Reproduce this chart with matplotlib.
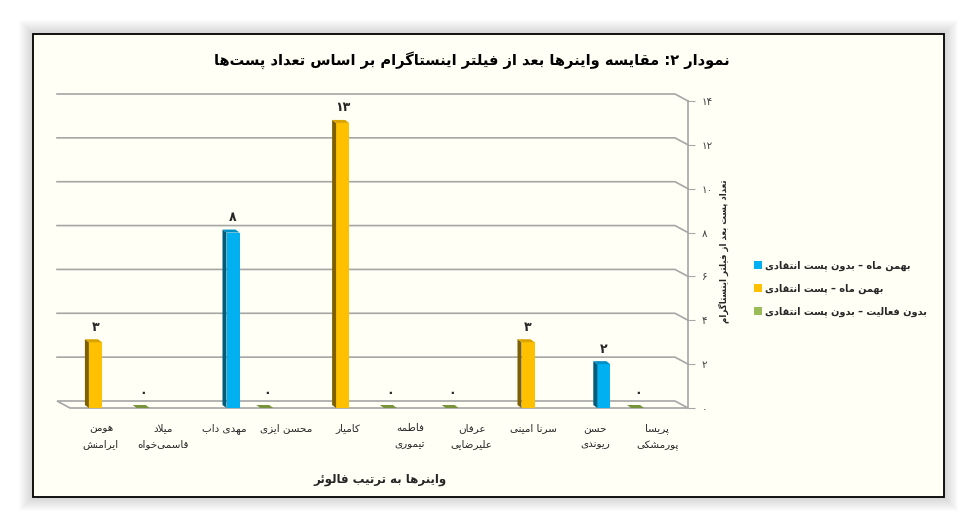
import matplotlib
matplotlib.use("Agg")
import matplotlib.pyplot as plt
from matplotlib.patches import Rectangle, Polygon, Patch

# data
names = [
    "هومن\nایرامنش", "میلاد\nقاسمی‌خواه", "مهدی داب", "محسن ایزی", "کامیار",
    "فاطمه\nتیموری", "عرفان\nعلیرضایی", "سرنا امینی", "حسن\nریوندی", "پریسا\nپورمشکی",
]
values = [3, 0, 8, 0, 13, 0, 0, 3, 2, 0]
# 0 = blue, 1 = orange, 2 = green
series_of = [1, 2, 0, 2, 1, 2, 2, 1, 0, 2]
series_names = [
    "بهمن ماه – بدون پست انتقادی",
    "بهمن ماه – پست انتقادی",
    "بدون فعالیت – بدون پست انتقادی",
]
yticks = [0, 2, 4, 6, 8, 10, 12, 14]
title = "نمودار ۲: مقایسه واینرها بعد از فیلتر اینستاگرام بر اساس تعداد پست‌ها"
xlabel = "واینرها به ترتیب فالوئر"
ylabel = "تعداد پست بعد از فیلتر اینستاگرام"

front = ["#00B0F0", "#FFC000", "#9BBB59"]
side = ["#005A7A", "#7F6000", "#4F6228"]
top = ["#0090C8", "#D9A300", "#77933C"]

# --- simple persian shaping (matplotlib has no bidi / joining) ---
DUAL = {
    "ب": "ﺏﺐﺑﺒ", "پ": "ﭖﭗﭘﭙ", "ت": "ﺕﺖﺗﺘ", "ث": "ﺙﺚﺛﺜ", "ج": "ﺝﺞﺟﺠ",
    "چ": "ﭺﭻﭼﭽ", "ح": "ﺡﺢﺣﺤ", "خ": "ﺥﺦﺧﺨ", "س": "ﺱﺲﺳﺴ", "ش": "ﺵﺶﺷﺸ",
    "ص": "ﺹﺺﺻﺼ", "ض": "ﺽﺾﺿﻀ", "ط": "ﻁﻂﻃﻄ", "ظ": "ﻅﻆﻇﻈ", "ع": "ﻉﻊﻋﻌ",
    "غ": "ﻍﻎﻏﻐ", "ف": "ﻑﻒﻓﻔ", "ق": "ﻕﻖﻗﻘ", "ک": "ﮎﮏﮐﮑ", "گ": "ﮒﮓﮔﮕ",
    "ل": "ﻝﻞﻟﻠ", "م": "ﻡﻢﻣﻤ", "ن": "ﻥﻦﻧﻨ", "ه": "ﻩﻪﻫﻬ", "ی": "ﯼﯽﯾﯿ",
    "ئ": "ﺉﺊﺋﺌ",
}
RIGHT = {
    "ا": "ﺍﺎ", "آ": "ﺁﺂ", "د": "ﺩﺪ", "ذ": "ﺫﺬ", "ر": "ﺭﺮ", "ز": "ﺯﺰ",
    "ژ": "ﮊﮋ", "و": "ﻭﻮ",
}


def fa_shape(s):
    out = []
    chars = list(s)
    i = 0
    while i < len(chars):
        ch = chars[i]
        prev = chars[i - 1] if i > 0 else ""
        nxt = chars[i + 1] if i + 1 < len(chars) else ""
        pj = prev in DUAL
        if ch == "ل" and nxt == "ا":
            out.append("ﻼ" if pj else "ﻻ")
            i += 2
            continue
        if ch in DUAL:
            nj = nxt in DUAL or nxt in RIGHT
            f = DUAL[ch]
            if pj and nj:
                out.append(f[3])
            elif pj:
                out.append(f[1])
            elif nj:
                out.append(f[2])
            else:
                out.append(f[0])
        elif ch in RIGHT:
            out.append(RIGHT[ch][1] if pj else RIGHT[ch][0])
        elif ch != "\u200c":
            out.append(ch)
        i += 1
    return "".join(out[::-1])


def fa(text):
    return "\n".join(fa_shape(line) for line in text.split("\n"))


def fa_num(n):
    return str(n).translate(str.maketrans("0123456789", "۰۱۲۳۴۵۶۷۸۹"))


plt.rcParams["font.family"] = ["DejaVu Sans"]

W, H = 977, 531
fig = plt.figure(figsize=(W / 100, H / 100), dpi=100, facecolor="white")

# chart frame with a soft shadow
bg = fig.add_axes([0, 0, 1, 1])
bg.set_xlim(0, W)
bg.set_ylim(H, 0)
bg.axis("off")
for k in range(14, 0, -1):
    bg.add_patch(Rectangle((33 - k, 34 - k), 911 + 2 * k, 463 + 2 * k,
                           facecolor="black", alpha=0.012, edgecolor="none"))
bg.add_patch(Rectangle((33, 34), 911, 463, facecolor="#FFFFF5",
                       edgecolor="black", lw=1.3))

# plot area (front plane)
x0, x1, yb, yt = 70, 688, 408, 101
ax = fig.add_axes([x0 / W, 1 - yb / H, (x1 - x0) / W, (yb - yt) / H])
ax.set_xlim(-0.5, 9.5)
ax.set_ylim(0, 14)
ax.patch.set_visible(False)
for sp in ax.spines.values():
    sp.set_visible(False)

ppx = (x1 - x0) / 10.0
ppy = (yb - yt) / 14.0
dx, dy = -13 / ppx, 7 / ppy          # back wall offset
bdx, bdy = -4 / ppx, 3 / ppy         # bar depth

# floor
ax.add_patch(Polygon([(-0.5 + dx, dy), (9.5 + dx, dy), (9.5, 0), (-0.5, 0)],
                     closed=True, facecolor="#FFFFF5", edgecolor="#A6A6A6",
                     lw=1.2, clip_on=False, zorder=1))
# gridlines on back wall + right wall
for v in yticks[1:]:
    ax.plot([-0.5 + dx, 9.5 + dx, 9.5], [v + dy, v + dy, v], color="#A6A6A6",
            lw=1.2, clip_on=False, zorder=1)
ax.plot([9.5, 9.5], [0, 14], color="#A6A6A6", lw=1.2, clip_on=False, zorder=1)

# bars
bw = 13 / ppx
offs = [8.5 / ppx, -5.5 / ppx, -19.5 / ppx]
for i, (v, s) in enumerate(zip(values, series_of)):
    xc = i + offs[s]
    ax.bar(xc, v, width=bw, color=front[s], zorder=3)
    l, r = xc - bw / 2, xc + bw / 2
    if v > 0:
        ax.add_patch(Polygon([(l, 0), (l, v), (l + bdx, v + bdy), (l + bdx, bdy)],
                             closed=True, facecolor=side[s], edgecolor="none",
                             zorder=3, clip_on=False))
    ax.add_patch(Polygon([(l, v), (r, v), (r + bdx, v + bdy), (l + bdx, v + bdy)],
                         closed=True, facecolor=top[s], edgecolor="none",
                         zorder=3, clip_on=False))
    ax.annotate(fa_num(v), (xc, v), xytext=(0, 15), textcoords="offset pixels",
                ha="center", va="center", fontsize=9, fontweight="bold",
                color="#262626")

ax.set_xticks(range(10))
ax.set_xticklabels([fa(n) for n in names], fontsize=7.5, color="#262626")
for lbl in ax.get_xticklabels():
    lbl.set_linespacing(1.75)
ax.tick_params(axis="x", length=0, pad=11)

ax.yaxis.tick_right()
ax.set_yticks(yticks)
ax.set_yticklabels([fa_num(v) for v in yticks], fontsize=7.5, color="#404040")
ax.tick_params(axis="y", length=5, color="#A6A6A6", pad=5)

fig.text(472 / W, 1 - 60 / H, fa(title), ha="center", va="center",
         fontsize=10.5, fontweight="bold", color="black")
fig.text(380 / W, 1 - 480 / H, fa(xlabel), ha="center", va="center",
         fontsize=8.5, fontweight="bold", color="#262626")
fig.text(724 / W, 1 - 251 / H, fa(ylabel), ha="center", va="center",
         rotation=90, fontsize=6.2, fontweight="bold", color="#262626")

handles = [Patch(facecolor=front[k], label=fa(series_names[k])) for k in range(3)]
fig.legend(handles=handles, loc="center left", bbox_to_anchor=(745 / W, 1 - 289 / H),
           frameon=False, prop={"size": 7.0, "weight": "bold"},
           handlelength=0.8, handleheight=0.8, handletextpad=0.4, labelspacing=1.25,
           labelcolor="#262626")

fig.savefig("out.png", dpi=100, facecolor="white")
